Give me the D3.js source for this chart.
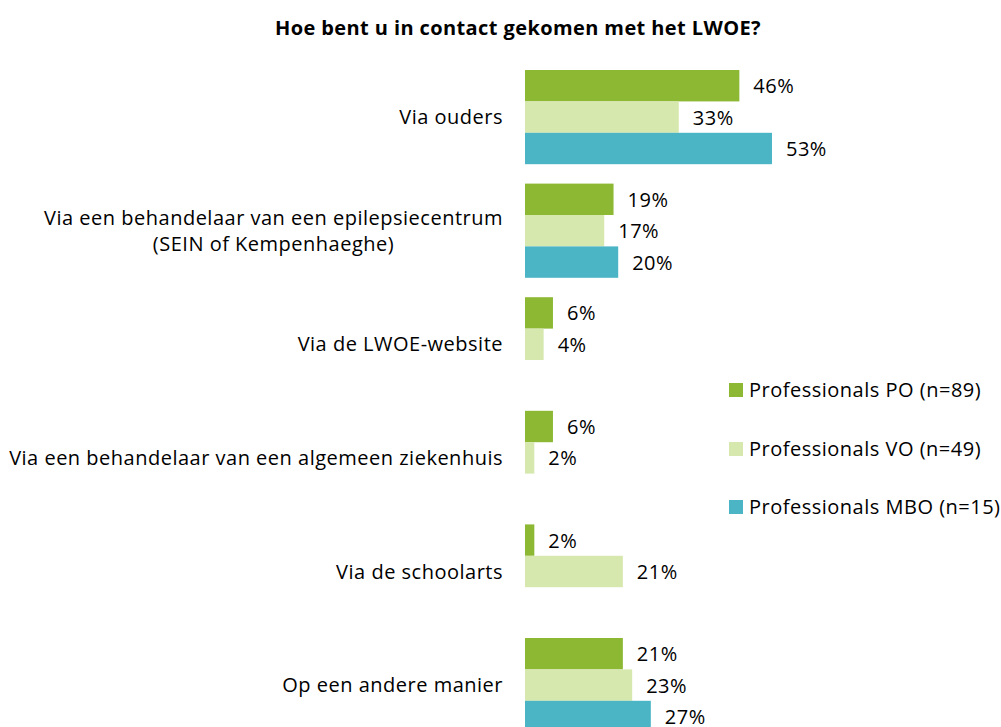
<!DOCTYPE html>
<html lang="nl">
<head>
    <meta charset="UTF-8">
    <title>Hoe bent u in contact gekomen met het LWOE?</title>
    <script src="https://d3js.org/d3.v7.min.js"></script>
    <style>
        body { margin: 0; background: #fff; }
        text { font-family: "Open Sans", sans-serif; fill: #000; }
        .title { font-weight: bold; font-size: 20px; letter-spacing: 0.4px; }
        .cat, .val, .leg { font-size: 20px; letter-spacing: 0.5px; }
    </style>
</head>
<body>
    <svg id="chart" width="1001" height="727"></svg>
    <script>
        // Data
        const categories = [
            ["Via ouders"],
            ["Via een behandelaar van een epilepsiecentrum", "(SEIN of Kempenhaeghe)"],
            ["Via de LWOE-website"],
            ["Via een behandelaar van een algemeen ziekenhuis"],
            ["Via de schoolarts"],
            ["Op een andere manier"]
        ];
        const seriesNames = ["Professionals PO (n=89)", "Professionals VO (n=49)", "Professionals MBO (n=15)"];
        const poValues  = [46, 19, 6, 6, 2, 21];
        const voValues  = [33, 17, 4, 2, 21, 23];
        const mboValues = [53, 20, null, null, null, 27];
        const colors = ["#8cb833", "#d6e8ae", "#4bb5c6"];

        const svg = d3.select("#chart");
        const catKeys = categories.map((c, i) => i);
        const seriesValues = [poValues, voValues, mboValues];

        const x = d3.scaleLinear().domain([0, 60]).range([525, 525 + 60 * 4.66]);
        const y0 = d3.scaleBand().domain(catKeys).range([60.3, 741.9])
            .paddingInner(0.171).paddingOuter(0.0855);
        const y1 = d3.scaleBand().domain(d3.range(seriesNames.length)).range([0, y0.bandwidth()]);

        // Title
        svg.append("text")
            .attr("class", "title")
            .attr("x", 518).attr("y", 35)
            .attr("text-anchor", "middle")
            .text("Hoe bent u in contact gekomen met het LWOE?");

        // Bars + value labels
        const groups = svg.selectAll(".group")
            .data(catKeys)
            .enter().append("g")
            .attr("transform", d => `translate(0,${y0(d)})`);

        groups.each(function(ci) {
            const g = d3.select(this);
            const rows = seriesValues.map((vals, si) => ({ si, v: vals[ci] })).filter(d => d.v != null);
            g.selectAll("rect")
                .data(rows)
                .enter().append("rect")
                .attr("x", x(0))
                .attr("y", d => y1(d.si))
                .attr("width", d => x(d.v) - x(0))
                .attr("height", y1.bandwidth())
                .attr("fill", d => colors[d.si]);
            g.selectAll(".val")
                .data(rows)
                .enter().append("text")
                .attr("class", "val")
                .attr("x", d => x(d.v) + 14)
                .attr("y", d => y1(d.si) + y1.bandwidth() / 2)
                .attr("dy", "0.38em")
                .text(d => d.v + "%");
        });

        // Category labels
        const lineH = 26;
        svg.selectAll(".cat")
            .data(catKeys)
            .enter().append("text")
            .attr("class", "cat")
            .attr("text-anchor", "middle")
            .each(function(ci) {
                const lines = categories[ci];
                const t = d3.select(this);
                const cy = y0(ci) + y0.bandwidth() / 2;
                lines.forEach((ln, li) => {
                    t.append("tspan")
                        .attr("x", 0)
                        .attr("y", cy + (li - (lines.length - 1) / 2) * lineH)
                        .attr("dy", "0.35em")
                        .text(ln);
                });
            });
        // right-align block, centre lines within block
        svg.selectAll(".cat").each(function() {
            const t = d3.select(this);
            const w = this.getBBox().width;
            t.selectAll("tspan").attr("x", 503 - w / 2);
        });

        // Legend
        const legendY = [390, 449, 507];
        const legend = svg.selectAll(".legend")
            .data(seriesNames)
            .enter().append("g")
            .attr("transform", (d, i) => `translate(729,${legendY[i]})`);
        legend.append("rect")
            .attr("x", 0).attr("y", -7)
            .attr("width", 14).attr("height", 14)
            .attr("fill", (d, i) => colors[i]);
        legend.append("text")
            .attr("class", "leg")
            .attr("x", 20).attr("y", 0)
            .attr("dy", "0.35em")
            .text(d => d);
    </script>
</body>
</html>
